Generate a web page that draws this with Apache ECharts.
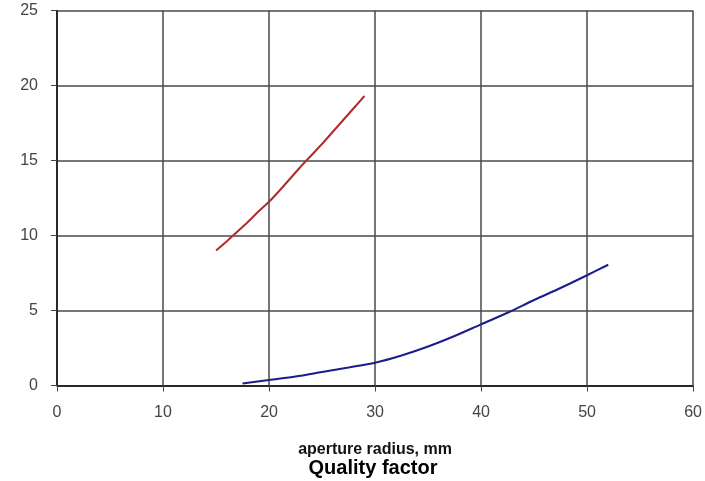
<!DOCTYPE html>
<html>
<head>
<meta charset="utf-8">
<script src="https://cdn.jsdelivr.net/npm/echarts@6/dist/echarts.min.js"></script>
<style>html,body{margin:0;padding:0;background:#fff}#c{width:705px;height:481px}</style>
</head>
<body>
<div id="c"></div>
<script>
const redX = [15, 16, 17, 18, 19, 20, 21, 22, 23, 24, 25, 26, 27, 28, 29];
const redY = [9.0, 9.6, 10.25, 10.9, 11.6, 12.25, 13.0, 13.8, 14.6, 15.35, 16.1, 16.9, 17.7, 18.5, 19.3];
const blueX = [17.5, 20, 22.5, 25, 27.5, 30, 32.5, 35, 37.5, 40, 42.5, 45, 47.5, 50, 52];
const blueY = [0.13, 0.37, 0.6, 0.9, 1.2, 1.52, 2.0, 2.6, 3.3, 4.08, 4.85, 5.7, 6.5, 7.35, 8.05];
const xTicks = [0, 10, 20, 30, 40, 50, 60];
const yTicks = [0, 5, 10, 15, 20, 25];
const xTitle = 'aperture radius, mm';
const chartTitle = 'Quality factor';

const pairs = (xs, ys) => xs.map((x, i) => [x, ys[i]]);
const font = 'Liberation Sans, Arial, sans-serif';
const chart = echarts.init(document.getElementById('c'), null, {renderer: 'canvas'});
chart.setOption({
  backgroundColor: '#fff',
  animation: false,
  title: {
    text: chartTitle, left: 368, top: 453, textAlign: 'center',
    textStyle: {fontFamily: font, fontSize: 20, fontWeight: 'bold', color: '#000'}
  },
  grid: {left: 57, right: 11, top: 10.5, bottom: 95.5, containLabel: false},
  xAxis: {
    type: 'value', min: xTicks[0], max: xTicks[xTicks.length - 1], interval: 10,
    name: xTitle, nameLocation: 'middle', nameGap: 56,
    nameTextStyle: {fontFamily: font, fontSize: 16, fontWeight: 'bold', color: '#111'},
    axisLine: {show: true, lineStyle: {color: '#111', width: 1.5}},
    axisTick: {show: true, inside: false, length: 6, lineStyle: {color: '#444'}},
    axisLabel: {fontFamily: font, fontSize: 16, color: '#444', margin: 19},
    splitLine: {show: true, lineStyle: {color: '#4a4a4a', width: 1.5}}
  },
  yAxis: {
    type: 'value', min: yTicks[0], max: yTicks[yTicks.length - 1], interval: 5,
    axisLine: {show: true, lineStyle: {color: '#111', width: 1.5}},
    axisTick: {show: true, inside: false, length: 6, lineStyle: {color: '#444'}},
    axisLabel: {fontFamily: font, fontSize: 16, color: '#444', margin: 19},
    splitLine: {show: true, lineStyle: {color: '#4a4a4a', width: 1.5}}
  },
  series: [
    {type: 'line', data: pairs(redX, redY), symbol: 'none', smooth: 0.3,
     lineStyle: {color: '#b02a2e', width: 2}},
    {type: 'line', data: pairs(blueX, blueY), symbol: 'none', smooth: 0.3,
     lineStyle: {color: '#1c1c8a', width: 2}}
  ]
});
</script>
</body>
</html>
